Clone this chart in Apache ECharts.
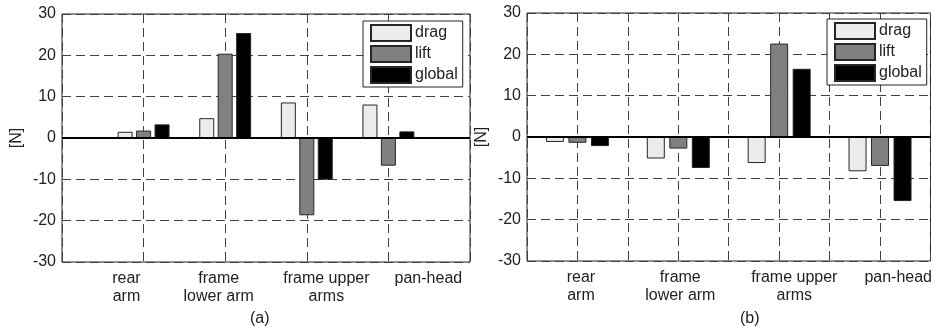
<!DOCTYPE html>
<html>
<head>
<meta charset="utf-8">
<script src="https://cdn.jsdelivr.net/npm/echarts@6/dist/echarts.min.js"></script>
<style>
html,body{margin:0;padding:0;background:#fff;}
#c{width:935px;height:333px;}
</style>
</head>
<body>
<div id="c"></div>
<script>
// ---- data ----
const categories = ['rear\narm', 'frame\nlower arm', 'frame upper\narms', 'pan-head'];
const seriesNames = ['drag', 'lift', 'global'];
const dragA   = [1.5, 4.8, 8.6, 8.1];
const liftA   = [1.8, 20.4, -18.7, -6.7];
const globalA = [3.3, 25.4, -10.1, 1.6];
const dragB   = [-1.2, -5.2, -6.3, -8.3];
const liftB   = [-1.4, -2.8, 22.6, -7.0];
const globalB = [-2.2, -7.5, 16.5, -15.5];
const groupPosA = [1, 2, 3, 4];
const groupPosB = [1, 3, 5, 7];
const labelPosA = [0.79, 1.92, 3.24, 4.49];
const labelPosB = [1.07, 3.04, 5.30, 7.36];
const yMin = -30, yMax = 30, yStep = 10;
const panelCaptions = ['(a)', '(b)'];

// ---- styling ----
const FONT = 'Liberation Sans, Arial, sans-serif';
const TXT = '#222';
const FS = 16;
const colors = ['#ececec', '#808080', '#000000'];
const gridDash = { color: '#404040', width: 1, type: [9, 5] };

function pairs(pos, vals) { return pos.map((p, i) => [p, vals[i]]); }
function labelFormatter(labelPos) {
  return function (v) {
    let best = 0, bd = 1e9;
    labelPos.forEach((p, i) => { const d = Math.abs(p - v); if (d < bd) { bd = d; best = i; } });
    return categories[best];
  };
}

const panels = [
  { grid: { left: 62, top: 14, width: 408, height: 248 }, xMax: 5, pos: groupPosA, labels: labelPosA,
    data: [dragA, liftA, globalA], barWidth: 15, barGap: '23%', legend: { left: 363, top: 21 }, caption: 250 },
  { grid: { left: 527, top: 13, width: 407, height: 248 }, xMax: 8, pos: groupPosB, labels: labelPosB,
    data: [dragB, liftB, globalB], barWidth: 18, barGap: '25%', legend: { left: 827, top: 19 }, caption: 740 }
];

const option = {
  animation: false,
  backgroundColor: '#fff',
  textStyle: { fontFamily: FONT },
  title: panels.map((p, i) => ({
    text: panelCaptions[i], left: p.caption, top: 311, padding: 0,
    textStyle: { fontFamily: FONT, fontSize: FS, fontWeight: 'normal', color: TXT }
  })),
  grid: panels.map(p => Object.assign({ show: true, borderColor: '#222', borderWidth: 1, backgroundColor: '#fff' }, p.grid)),
  legend: panels.map(p => ({
    data: seriesNames, orient: 'vertical', left: p.legend.left, top: p.legend.top,
    itemWidth: 40, itemHeight: 16, itemGap: 3, icon: 'rect',
    padding: [3, 5, 3, 7], borderColor: '#222', borderWidth: 1, backgroundColor: '#fff',
    textStyle: { fontFamily: FONT, fontSize: FS, color: TXT, padding: [0, 0, 0, -1] },
    selectedMode: false
  })),
  xAxis: panels.map((p, i) => ({
    type: 'value', gridIndex: i, min: 0, max: p.xMax, interval: 1,
    axisLine: { show: false }, axisTick: { show: false },
    splitLine: { show: true, lineStyle: gridDash },
    axisLabel: {
      customValues: p.labels, formatter: labelFormatter(p.labels),
      fontFamily: FONT, fontSize: FS, color: TXT, lineHeight: 18, margin: 8,
      showMinLabel: true, showMaxLabel: true, hideOverlap: false
    }
  })),
  yAxis: panels.map((p, i) => ({
    type: 'value', gridIndex: i, min: yMin, max: yMax, interval: yStep,
    name: '[N]', nameLocation: 'middle', nameRotate: 90, nameGap: 37,
    nameTextStyle: { fontFamily: FONT, fontSize: FS, color: TXT },
    axisLine: { show: false }, axisTick: { show: false },
    splitLine: { show: true, lineStyle: gridDash },
    axisLabel: { fontFamily: FONT, fontSize: FS, color: TXT, margin: 6 }
  })),
  series: []
};

panels.forEach((p, pi) => {
  seriesNames.forEach((name, si) => {
    const s = {
      type: 'bar', name: name, xAxisIndex: pi, yAxisIndex: pi,
      data: pairs(p.pos, p.data[si]),
      barWidth: p.barWidth, barGap: p.barGap,
      itemStyle: { color: colors[si], borderColor: '#262626', borderWidth: 1 },
      emphasis: { disabled: true }, silent: true
    };
    if (si === 2) {
      s.markLine = {
        silent: true, symbol: ['none', 'none'], label: { show: false },
        lineStyle: { color: '#000', width: 2, type: 'solid' },
        data: [{ yAxis: 0 }]
      };
    }
    option.series.push(s);
  });
});

const chart = echarts.init(document.getElementById('c'), null, { renderer: 'canvas' });
chart.setOption(option);
</script>
</body>
</html>
